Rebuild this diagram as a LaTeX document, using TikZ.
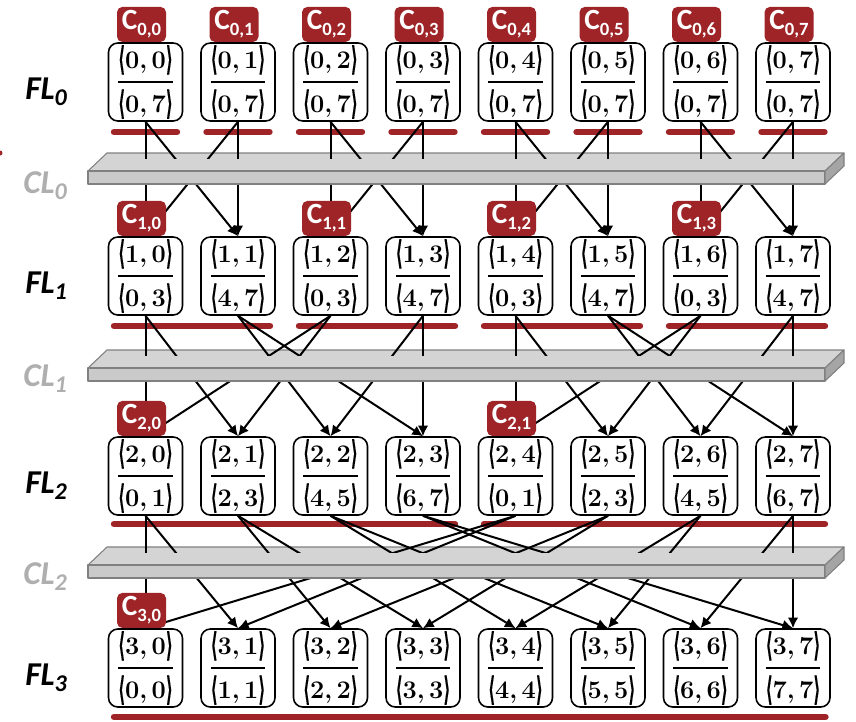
\documentclass[tikz,border=0pt]{standalone}
\usepackage{amsmath}
\usepackage{fontspec}
\newfontfamily\calibri{Carlito}
\newfontfamily\angfont{DejaVu Sans}[FakeBold=0.3]
\definecolor{BarRed}{RGB}{158,36,40}
\definecolor{SlabTop}{RGB}{212,212,212}
\definecolor{SlabFront}{RGB}{202,202,202}
\definecolor{SlabSide}{RGB}{165,165,165}
\definecolor{SlabEdge}{RGB}{128,128,128}
\definecolor{LabelGray}{RGB}{175,175,175}
\usepackage{tikz}
\usetikzlibrary{arrows.meta}

\newcommand{\angl}[1]{\raisebox{-1.5pt}{\scalebox{0.6}[1.3]{\angfont #1}}}
\newcommand{\bpair}[2]{\mbox{\angl{⟨}#1,\,#2\angl{⟩}}}
\newcommand{\cellfrac}[4]{$\genfrac{}{}{1.6pt}{0}{\bpair{#1}{#2}}{\bpair{#3}{#4}}$}
\newcommand{\tagtext}[1]{C\raisebox{-4.5pt}{\fontsize{14}{14}\selectfont #1}}
\newcommand{\layertext}[2]{#1\raisebox{-5pt}{\fontsize{18}{18}\selectfont #2}}
% slab: top face first, front and side faces after the links
\newcommand{\slabtop}[1]{%
  \draw[slabline, fill=SlabTop] (107,#1) -- (844,#1) -- (825,{#1+18}) -- (88,{#1+18}) -- cycle;}
\newcommand{\slabfront}[1]{%
  \fill[SlabTop] (110,{#1+6}) rectangle (820,{#1+17.5});
  \draw[slabline, fill=SlabFront] (88,{#1+18}) rectangle (825,{#1+31});
  \draw[slabline, fill=SlabSide] (825,{#1+18}) -- (844,#1) -- (844,{#1+13}) -- (825,{#1+31}) -- cycle;}

\tikzset{
  cell/.style={draw, fill=white, rounded corners=7pt, line width=1.2pt, inner sep=0pt,
    minimum width=55.5pt, minimum height=58.5pt, font=\bfseries\fontsize{19}{23}\selectfont},
  tagbox/.style={fill=BarRed, text=white, rounded corners=4pt, inner sep=0pt,
    minimum width=36.75pt, minimum height=26.25pt, anchor=south,
    font=\calibri\bfseries\fontsize{22}{22}\selectfont},
  redbar/.style={BarRed, line width=4.8pt, line cap=round},
  link/.style={line width=1.5pt},
  linkarrow/.style={line width=1.5pt, -{Latex[length=8pt,width=8pt]}},
  slabline/.style={SlabEdge, line width=0.8pt, line join=round},
  fllabel/.style={anchor=base west, inner sep=0pt, font=\calibri\bfseries\itshape\fontsize{25}{25}\selectfont},
  cllabel/.style={fllabel, text=LabelGray}
}

\begin{document}
\begin{tikzpicture}[x=0.75pt, y=-0.75pt]
\useasboundingbox (0,0) rectangle (856,721);
\fill[BarRed] (0,153) circle (2.5);

% group bars under each layer
\foreach \j in {0,...,7}
  \draw[redbar] ({114+92.5*\j},132) -- ({177+92.5*\j},132);
\foreach \j in {0,2,4,6}
  \draw[redbar] ({114+92.5*\j},326) -- ({270+92.5*\j},326);
\foreach \j in {0,4}
  \draw[redbar] ({114+92.5*\j},524) -- ({455+92.5*\j},524);
\draw[redbar] (114,717) -- (825.5,717);

% layer cells
\foreach \j in {0,...,7}
  \node[cell] (n0\j) at ({145.5+92.5*\j},82) {\cellfrac{0}{\j}{0}{7}};
\foreach \j/\lo/\hi in {0/0/3,1/4/7,2/0/3,3/4/7,4/0/3,5/4/7,6/0/3,7/4/7}
  \node[cell] (n1\j) at ({145.5+92.5*\j},276) {\cellfrac{1}{\j}{\lo}{\hi}};
\foreach \j/\lo/\hi in {0/0/1,1/2/3,2/4/5,3/6/7,4/0/1,5/2/3,6/4/5,7/6/7}
  \node[cell] (n2\j) at ({145.5+92.5*\j},476) {\cellfrac{2}{\j}{\lo}{\hi}};
\foreach \j in {0,...,7}
  \node[cell] (n3\j) at ({145.5+92.5*\j},668) {\cellfrac{3}{\j}{\j}{\j}};

\slabtop{153}
\slabtop{350}
\slabtop{547}

% FL0 -> FL1
\foreach \s/\d in {0/0,1/0,2/2,3/2,4/4,5/4,6/6,7/6}
  \draw[link] (n0\s.south) -- (n1\d.north);
\foreach \s/\d in {0/1,1/1,2/3,3/3,4/5,5/5,6/7,7/7}
  \draw[linkarrow] (n0\s.south) -- (n1\d.north);
% FL1 -> FL2
\foreach \s/\d in {0/0,2/0,4/4,6/4}
  \draw[link] (n1\s.south) -- (n2\d.north);
\foreach \s/\d in {0/1,2/1,1/2,3/2,1/3,3/3,4/5,6/5,5/6,7/6,5/7,7/7}
  \draw[linkarrow] (n1\s.south) -- (n2\d.north);
% FL2 -> FL3
\foreach \s/\d in {0/0,4/0}
  \draw[link] (n2\s.south) -- (n3\d.north);
\foreach \s/\d in {0/1,4/1,1/2,5/2,1/3,5/3,2/4,6/4,2/5,6/5,3/6,7/6,3/7,7/7}
  \draw[linkarrow] (n2\s.south) -- (n3\d.north);

\slabfront{153}
\slabfront{350}
\slabfront{547}

% compute tags
\foreach \j in {0,...,7}
  \node[tagbox] (t0\j) at ([xshift=-3pt]n0\j.north) {\tagtext{0,\j}};
\foreach \j/\k in {0/0,2/1,4/2,6/3}
  \node[tagbox] (t1\j) at ([xshift=-3pt]n1\j.north) {\tagtext{1,\k}};
\foreach \j/\k in {0/0,4/1}
  \node[tagbox] (t2\j) at ([xshift=-3pt]n2\j.north) {\tagtext{2,\k}};
\node[tagbox] (t30) at ([xshift=-3pt]n30.north) {\tagtext{3,0}};

% layer names
\node[fllabel] (fl0) at (25,99) {\layertext{FL}{0}};
\node[fllabel] (fl1) at (25,293) {\layertext{FL}{1}};
\node[fllabel] (fl2) at (25,493) {\layertext{FL}{2}};
\node[fllabel] (fl3) at (25,685) {\layertext{FL}{3}};
\node[cllabel] (cl0) at (23,193) {\layertext{CL}{0}};
\node[cllabel] (cl1) at (23,386) {\layertext{CL}{1}};
\node[cllabel] (cl2) at (23,584) {\layertext{CL}{2}};
\end{tikzpicture}
\end{document}
